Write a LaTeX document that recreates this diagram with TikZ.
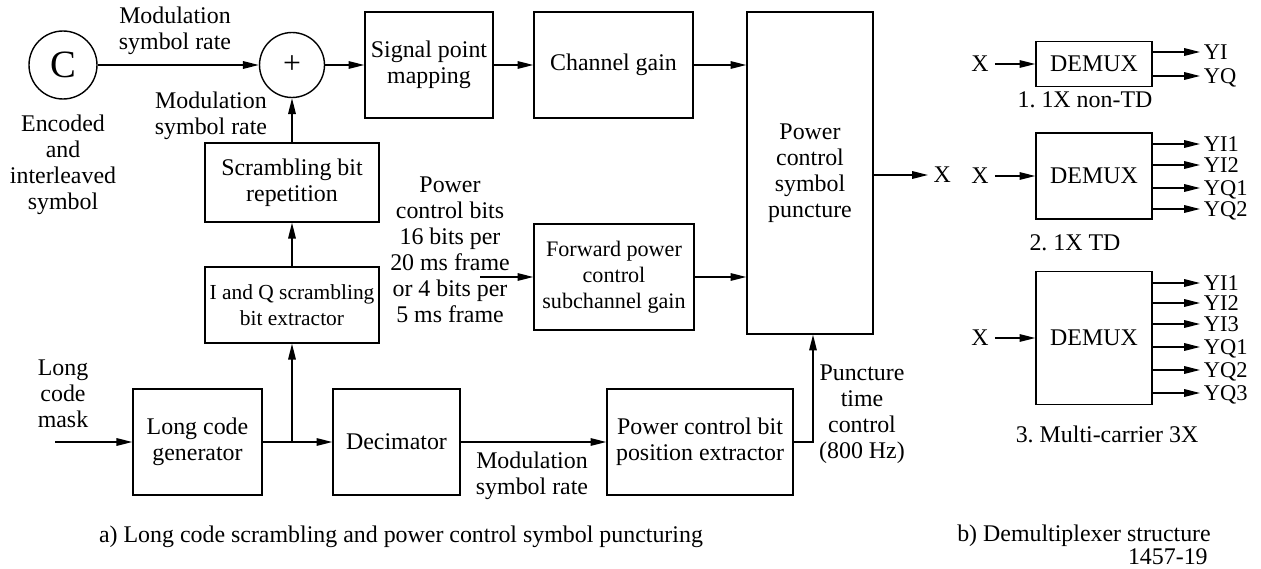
\documentclass[tikz,border=0pt]{standalone}
\usepackage{fontspec}
\setmainfont{Liberation Serif}
\usetikzlibrary{arrows.meta}

\tikzset{
    every node/.style={font=\fontsize{13.6}{14.8}\selectfont},
    blk/.style={draw, line width=0.8pt, align=center, inner sep=0pt},
    circ/.style={draw, circle, line width=0.8pt, inner sep=0pt},
    lbl/.style={align=center, inner sep=0pt},
    ylbl/.style={anchor=west, inner xsep=2pt, inner ysep=0pt, text height=8pt, text depth=0pt, font=\fontsize{12.8}{13}\selectfont},
    arr/.style={-{Triangle[length=9pt,width=4.3pt]}, line width=0.8pt},
}

\begin{document}
\frenchspacing
\begin{tikzpicture}[x=0.02cm, y=-0.02cm]

            % the frame
            \useasboundingbox (0, 0) rectangle (1261, 568);

            % upper row
            \node[circ, minimum size=1.36cm, font=\fontsize{22}{22}\selectfont] (C) at (63, 65) {C};
            \node[circ, minimum size=1.30cm, font=\fontsize{18}{18}\selectfont] (add) at (292, 65) {+};
            \node[blk, minimum width=2.56cm, minimum height=2.12cm] (map) at (429, 65) {Signal point\\mapping};
            \node[blk, minimum width=3.18cm, minimum height=2.12cm] (gain) at (613.5, 65) {Channel gain};
            \node[blk, minimum width=2.52cm, minimum height=6.44cm] (punc) at (810, 173) {Power\\control\\symbol\\puncture};

            % scrambling
            \node[blk, minimum width=3.48cm, minimum height=1.58cm] (rep) at (292, 182.5) {Scrambling bit\\repetition};
            \node[blk, minimum width=3.48cm, minimum height=1.52cm, font=\fontsize{12.2}{14.8}\selectfont] (iq) at (292, 305) {I and Q scrambling\\bit extractor};
            \node[blk, minimum width=3.2cm, minimum height=2.12cm, font=\fontsize{12.6}{14.8}\selectfont] (fpc) at (614, 277) {Forward power\\control\\subchannel gain};

            % lower row
            \node[blk, minimum width=2.58cm, minimum height=2.12cm] (lcg) at (197.5, 442) {Long code\\generator};
            \node[blk, minimum width=2.54cm, minimum height=2.12cm] (dec) at (396.5, 442) {Decimator};
            \node[blk, minimum width=3.72cm, minimum height=2.12cm] (pcb) at (700, 442) {Power control bit\\position extractor};

            % labels
            \node[lbl] (rate1) at (175, 31) {Modulation\\symbol rate};
            \node[lbl] (rate2) at (211, 116) {Modulation\\symbol rate};
            \node[lbl] (enc) at (63, 165) {Encoded\\and\\interleaved\\symbol};
            \node[lbl] (mask) at (63, 394) {Long\\code\\mask};
            \node[lbl] (pcbits) at (450, 250) {Power\\control bits\\16 bits per\\20 ms frame\\or 4 bits per\\5 ms frame};
            \node[lbl] (rate3) at (532, 476) {Modulation\\symbol rate};
            \node[lbl] (ptc) at (862, 414) {Puncture\\time\\control\\(800 Hz)};
            \node[anchor=west, inner sep=3pt] (xout) at (928, 175) {X};

            \coordinate (maskin) at (55, 442);
            \coordinate (pcin) at (480, 277);
            \coordinate (split) at (iq.south |- lcg.east);
            \coordinate (bend) at (813, 442);

            % connectors
            \draw[arr] (C) -- (add);
            \draw[arr] (add) -- (map);
            \draw[arr] (map) -- (gain);
            \draw[arr] (gain.east) -- (gain.east -| punc.west);
            \draw[arr] (rep.north) -- (add.south);
            \draw[arr] (iq.north) -- (rep.south);
            \draw[arr] (maskin) -- (lcg.west);
            \draw[arr] (lcg.east) -- (dec.west);
            \draw[arr] (split) -- (iq.south);
            \draw[arr] (dec.east) -- (pcb.west);
            \draw[arr] (pcb.east) -- (bend) -- (bend |- punc.south);
            \draw[arr] (pcin) -- (fpc.west);
            \draw[arr] (fpc.east) -- (fpc.east -| punc.west);
            \draw[arr] (punc.east |- xout.west) -- (xout.west);

            % demultiplexers
            \node[blk, minimum width=2.32cm, minimum height=0.9cm] (dm1) at (1094, 64) {DEMUX};
            \node[blk, minimum width=2.32cm, minimum height=1.72cm] (dm2) at (1094, 176) {DEMUX};
            \node[blk, minimum width=2.32cm, minimum height=2.66cm] (dm3) at (1094, 338) {DEMUX};

            \node (x1) at (980, 64) {X};
            \node (x2) at (980, 176) {X};
            \node (x3) at (980, 338) {X};
            \draw[arr] (x1) -- (dm1);
            \draw[arr] (x2) -- (dm2);
            \draw[arr] (x3) -- (dm3);

            \foreach \y/\t [count=\i] in {52/YI, 76/YQ} {
                \node[ylbl] (oa\i) at (1200, \y) {\t};
                \draw[arr] (dm1.east |- oa\i.west) -- (oa\i.west);
            }
            \foreach \y/\t [count=\i] in {144/YI1, 165/YI2, 188/YQ1, 209/YQ2} {
                \node[ylbl] (ob\i) at (1200, \y) {\t};
                \draw[arr] (dm2.east |- ob\i.west) -- (ob\i.west);
            }
            \foreach \y/\t [count=\i] in {283/YI1, 303/YI2, 324/YI3, 347/YQ1, 370/YQ2, 393/YQ3} {
                \node[ylbl] (oc\i) at (1200, \y) {\t};
                \draw[arr] (dm3.east |- oc\i.west) -- (oc\i.west);
            }

            \node (cap1) at (1085, 100) {1. 1X non-TD};
            \node (cap2) at (1075, 243) {2. 1X TD};
            \node (cap3) at (1107, 434) {3. Multi-carrier 3X};

            % captions
            \node (capa) at (401, 537) {a) Long code scrambling and power control symbol puncturing};
            \node[inner sep=0pt] (capb) at (1084, 536) {b) Demultiplexer structure};
            \node[anchor=east, inner sep=0pt] (fig) at (1208, 557) {1457-19};

        \end{tikzpicture}
\end{document}
